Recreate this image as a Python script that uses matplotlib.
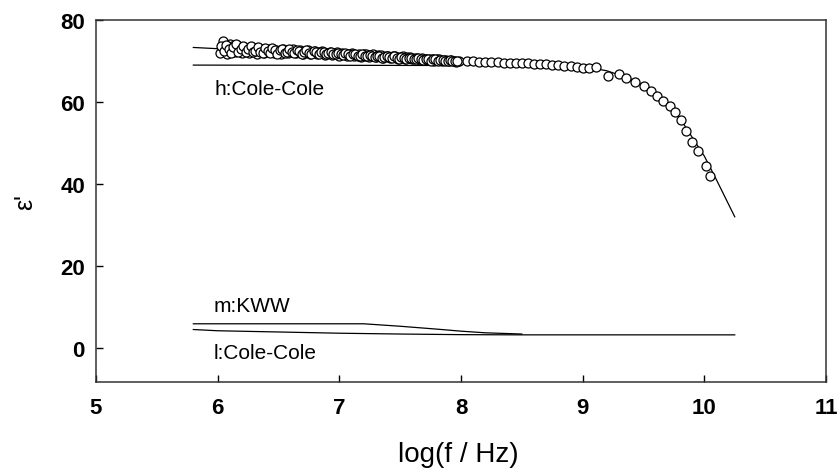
import numpy as np
import matplotlib
matplotlib.use("Agg")
import matplotlib.pyplot as plt

plt.rcParams['font.family'] = ['Liberation Sans', 'DejaVu Sans']

# ---- measured data (circles) ----
logf_dense_a = np.round(np.linspace(6.02, 7.98, 99), 3)
eps_dense_a = [
    72.0, 74.8, 73.2, 71.8, 74.2, 73.6, 72.1, 73.9, 72.6, 71.9,
    73.5, 72.4, 72.0, 73.3, 72.8, 71.8, 73.1, 72.9, 72.0, 72.6,
    73.0, 72.1, 71.9, 72.8, 72.5, 71.7, 72.9, 72.4, 71.9, 72.7,
    72.9, 72.0, 72.3, 72.8, 71.8, 72.4, 72.6, 71.7, 72.2, 72.5,
    71.6, 72.3, 72.4, 71.5, 72.0, 72.2, 71.4, 71.9, 72.1, 71.3,
    71.9, 71.8, 71.2, 71.7, 71.9, 71.3, 71.5, 71.8, 71.0, 71.6,
    71.7, 71.0, 71.4, 71.6, 70.9, 71.5, 71.4, 70.8, 71.3, 71.2,
    70.7, 71.2, 71.1, 70.6, 71.0, 71.1, 70.5, 70.9, 70.9, 70.4,
    70.8, 70.7, 70.3, 70.7, 70.6, 70.2, 70.6, 70.5, 70.1, 70.4,
    70.4, 70.0, 70.3, 70.2, 69.9, 70.2, 70.1, 69.8, 70.0,
]
logf_dense_b = np.round(np.linspace(6.03, 7.97, 98), 3)
eps_dense_b = [
    73.6, 72.5, 74.0, 72.9, 71.9, 73.4, 74.1, 72.3, 73.0, 73.7,
    72.2, 72.9, 73.6, 72.1, 72.5, 73.4, 72.3, 71.9, 73.2, 72.5,
    72.0, 73.1, 72.6, 71.8, 72.6, 73.0, 72.0, 72.2, 72.9, 72.1,
    71.9, 72.6, 72.5, 71.7, 72.1, 72.7, 72.0, 71.8, 72.5, 72.1,
    71.7, 72.3, 72.2, 71.6, 71.9, 72.2, 71.7, 71.6, 72.0, 71.7,
    71.4, 71.9, 71.6, 71.2, 71.6, 71.7, 71.2, 71.3, 71.7, 71.3,
    71.1, 71.5, 71.3, 70.9, 71.3, 71.3, 70.8, 71.0, 71.3, 70.9,
    70.8, 71.1, 70.8, 70.6, 70.9, 70.8, 70.5, 70.7, 70.8, 70.4,
    70.5, 70.7, 70.4, 70.3, 70.6, 70.4, 70.1, 70.4, 70.4, 70.0,
    70.2, 70.3, 70.0, 70.0, 70.2, 69.9, 69.9, 70.1,
]
logf_sparse = [8.05, 8.10, 8.15, 8.20, 8.25, 8.30, 8.35, 8.40, 8.45, 8.50,
               8.55, 8.60, 8.65, 8.70, 8.75, 8.80, 8.85, 8.90, 8.95, 9.00,
               9.05, 9.11, 9.21, 9.30, 9.36, 9.43, 9.50, 9.56, 9.61, 9.66,
               9.72, 9.76, 9.81, 9.85, 9.90, 9.95, 10.01, 10.05]
eps_sparse = [69.9, 69.9, 69.8, 69.8, 69.7, 69.7, 69.6, 69.6, 69.5, 69.5,
              69.4, 69.3, 69.3, 69.2, 69.1, 69.0, 68.9, 68.8, 68.6, 68.4,
              68.3, 68.5, 66.3, 66.8, 65.8, 64.9, 63.9, 62.7, 61.5, 60.2,
              59.0, 57.6, 55.6, 52.9, 50.2, 48.0, 44.4, 42.0]

# ---- fit curves ----
fit_x = [5.8, 6.0, 6.5, 7.0, 7.5, 8.0, 8.5, 9.0, 9.2, 9.4, 9.5, 9.6, 9.7,
         9.8, 9.9, 10.0, 10.1, 10.2, 10.25]
fit_y = [73.3, 73.0, 72.4, 71.7, 70.9, 70.2, 69.6, 68.7, 67.6, 65.6, 64.0,
         62.0, 59.4, 56.0, 51.4, 46.8, 41.0, 35.0, 32.0]

h_x = [5.8, 8.0]
h_y = [69.0, 68.9]

m_x = [5.8, 7.2, 7.5, 7.8, 8.0, 8.2, 8.5]
m_y = [5.9, 5.9, 5.3, 4.6, 4.1, 3.7, 3.4]

l_x = [5.8, 6.0, 6.5, 7.0, 7.5, 8.0, 8.5, 10.25]
l_y = [4.5, 4.2, 3.9, 3.6, 3.4, 3.25, 3.2, 3.2]

labels = ["h:Cole-Cole", "m:KWW", "l:Cole-Cole"]
label_pos = [(5.97, 63.3), (5.97, 10.3), (5.97, -1.0)]

xticks = [5, 6, 7, 8, 9, 10, 11]
yticks = [0, 20, 40, 60, 80]

fig = plt.figure(figsize=(8.38, 4.77), dpi=100)
ax = fig.add_axes([96/838, 1-383/477, (826-96)/838, (383-21)/477])

for xs, ys in [(fit_x, fit_y), (h_x, h_y), (m_x, m_y), (l_x, l_y)]:
    ax.plot(xs, ys, color='black', lw=0.9, zorder=1)

for xs, ys in [(logf_dense_a, eps_dense_a), (logf_dense_b, eps_dense_b),
               (logf_sparse, eps_sparse)]:
    ax.plot(xs, ys, linestyle='none', marker='o', ms=6.5,
            mfc='white', mec='black', mew=0.9, zorder=2)

for t, (px, py) in zip(labels, label_pos):
    ax.text(px, py, t, fontsize=15, ha='left', va='center', color='black')

ax.set_xlim(5, 11)
ax.set_ylim(-8.3, 80)
ax.set_xticks(xticks)
ax.set_yticks(yticks)
ax.tick_params(direction='in', length=5, width=1, labelsize=16)
ax.tick_params(axis='x', pad=11)
ax.tick_params(axis='y', pad=8)
for lab in ax.get_xticklabels() + ax.get_yticklabels():
    lab.set_fontweight('bold')
for s in ax.spines.values():
    s.set_linewidth(1.1)
    s.set_color('#333333')

ax.set_xlabel('log(f / Hz)', fontsize=20)
ax.xaxis.set_label_coords(0.497, -0.162)
ax.xaxis.label.set_va('top')
ax.set_ylabel("ε'", fontsize=18)
ax.yaxis.set_label_coords(-0.08, 0.5)

fig.savefig('out.png', dpi=100)
